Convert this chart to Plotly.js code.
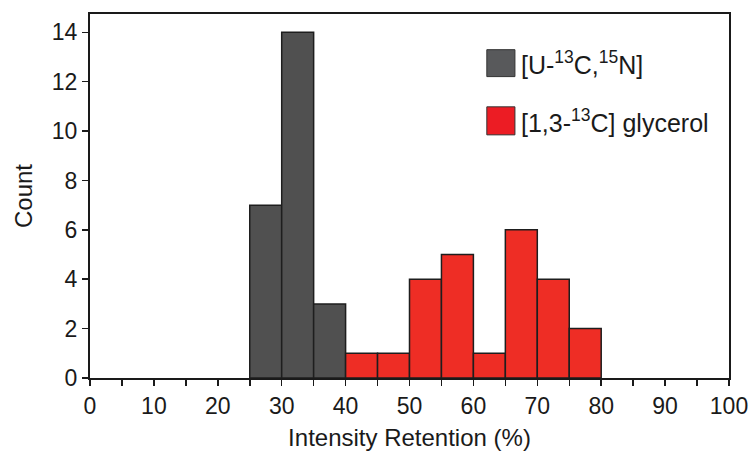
<!DOCTYPE html>
<html>
<head>
<meta charset="utf-8">
<script src="https://cdn.plot.ly/plotly-3.0.1.min.js"></script>
<style>html,body{margin:0;padding:0;background:#fff;}#chart{width:754px;height:454px;}</style>
</head>
<body>
<div id="chart"></div>
<script>
// Bin starts (%) and counts, bin width 5
const binWidth = 5;
const uniformBins = [25, 30, 35];
const uniformCounts = [7, 14, 3];
const glycerolBins = [40, 45, 50, 55, 60, 65, 70, 75];
const glycerolCounts = [1, 1, 4, 5, 1, 6, 4, 2];
const seriesNames = ['[U-<sup>13</sup>C,<sup>15</sup>N]', '[1,3-<sup>13</sup>C] glycerol'];
const xTickVals = [0,10,20,30,40,50,60,70,80,90,100];
const yTickVals = [0,2,4,6,8,10,12,14];

const font = 'Liberation Sans, Arial, Helvetica, sans-serif';
const centers = b => b.map(v => v + binWidth/2);

const traces = [
  {type:'bar', x:centers(uniformBins), y:uniformCounts, width:binWidth, name:seriesNames[0],
   marker:{color:'#505050', line:{color:'#1e1e1e', width:1.5}}, showlegend:false},
  {type:'bar', x:centers(glycerolBins), y:glycerolCounts, width:binWidth, name:seriesNames[1],
   marker:{color:'#ee2d25', line:{color:'#1e1e1e', width:1.5}}, showlegend:false}
];

const legendSq = (y0, y1, c) => ({type:'rect', xref:'paper', yref:'paper', x0:0.621, x1:0.665, y0:y0, y1:y1,
  fillcolor:c, line:{color:'#333', width:1}});

const layout = {
  width:754, height:454,
  margin:{l:90, r:25, t:14, b:76},
  paper_bgcolor:'#fff', plot_bgcolor:'#fff',
  font:{family:font, color:'#1a1a1a'},
  barmode:'overlay', bargap:0,
  xaxis:{range:[0,100], tickmode:'array', tickvals:xTickVals,
    ticks:'outside', ticklen:6, tickwidth:1.5, tickcolor:'#1a1a1a',
    minor:{dtick:5, ticks:'outside', ticklen:6, tickwidth:1.5, tickcolor:'#1a1a1a', showgrid:false},
    showline:true, linecolor:'#1a1a1a', linewidth:2, mirror:true, showgrid:false, zeroline:false,
    tickfont:{size:23, family:font},
    title:{text:'Intensity Retention (%)', font:{size:24, family:font}, standoff:12}},
  yaxis:{range:[0,14.74], tickmode:'array', tickvals:yTickVals,
    ticks:'outside', ticklen:6, tickwidth:1.5, tickcolor:'#1a1a1a',
    showline:true, linecolor:'#1a1a1a', linewidth:2, mirror:true, showgrid:false, zeroline:false,
    tickfont:{size:23, family:font},
    title:{text:'Count', font:{size:24, family:font}, standoff:12}},
  shapes:[legendSq(0.828, 0.902, '#58595b'), legendSq(0.668, 0.745, '#ec1c24')],
  annotations:[
    {xref:'paper', yref:'paper', x:0.672, y:0.865, xanchor:'left', yanchor:'middle', showarrow:false,
     text:seriesNames[0], font:{size:25, family:font, color:'#1a1a1a'}},
    {xref:'paper', yref:'paper', x:0.672, y:0.706, xanchor:'left', yanchor:'middle', showarrow:false,
     text:seriesNames[1], font:{size:25, family:font, color:'#1a1a1a'}}
  ]
};

Plotly.newPlot('chart', traces, layout, {displayModeBar:false, staticPlot:true});
</script>
</body>
</html>
